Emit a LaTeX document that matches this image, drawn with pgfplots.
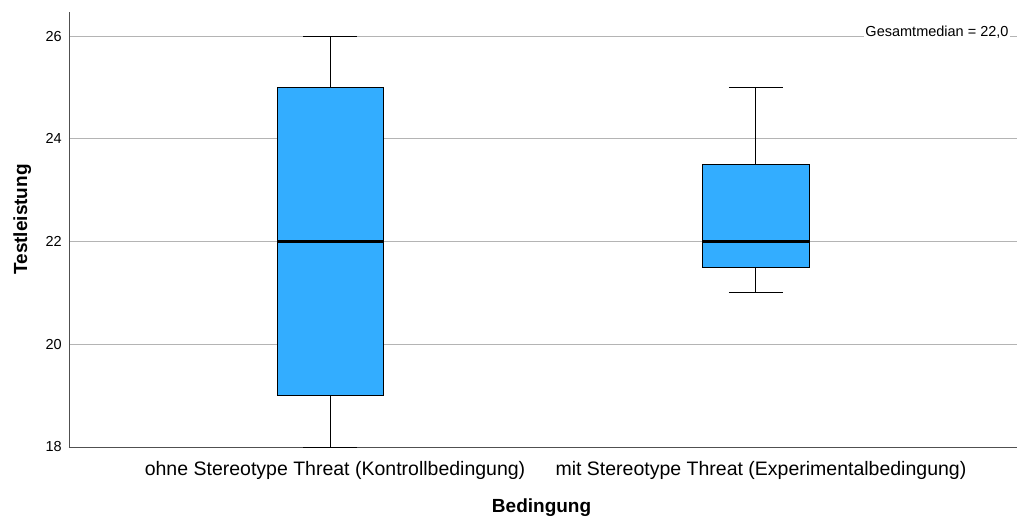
\documentclass[border=0pt]{standalone}
\usepackage{pgfplots}
\pgfplotsset{compat=1.18}
\usepgfplotslibrary{statistics}
\usepackage{fontspec}
\setmainfont{Liberation Sans}
\definecolor{boxblue}{HTML}{33ADFF}
\definecolor{gridgray}{HTML}{B4B4B4}
\definecolor{axgray}{HTML}{505050}
\begin{document}
\begin{tikzpicture}
\begin{axis}[
  at={(0,0)}, anchor=south west,
  scale only axis, width=948pt, height=435pt,
  xmin=-0.613, xmax=1.613,
  ymin=18, ymax=26.47,
  axis x line*=bottom, axis y line*=left,
  axis line style={axgray, line width=0.8pt},
  xtick={0,1},
  xticklabels={ohne Stereotype Threat (Kontrollbedingung), mit Stereotype Threat (Experimentalbedingung)},
  ytick={18,20,22,24,26},
  major tick length=0pt,
  ymajorgrids, grid style={gridgray, line width=0.8pt},
  x tick label style={font=\fontsize{19.5}{23}\selectfont, anchor=base, inner sep=0pt, yshift=-28pt, xshift=5pt},
  y tick label style={font=\fontsize{14.5}{17}\selectfont, anchor=east, inner sep=0pt, xshift=-7pt},
  /pgf/number format/assume math mode=true,
  xlabel={\textbf{Bedingung}},
  ylabel={\textbf{Testleistung}},
  xlabel style={font=\fontsize{19}{22}\selectfont, at={(axis description cs:0.4985,0)}, anchor=base, inner sep=0pt, yshift=-65pt},
  ylabel style={font=\fontsize{19}{22}\selectfont, at={(axis description cs:-0.0443,0.523)}, anchor=base, inner sep=0pt, rotate=0},
  boxplot/draw direction=y,
  boxplot/every median/.style={line width=2.5pt, black},
  clip=false,
]
\addplot+[mark=none, draw=black, fill=boxblue, line width=0.9pt,
  boxplot prepared={lower whisker=18, lower quartile=19, median=22, upper quartile=25, upper whisker=26,
  draw position=0, box extend=0.249, whisker extend=0.127}] coordinates {};
\addplot+[mark=none, draw=black, fill=boxblue, line width=0.9pt,
  boxplot prepared={lower whisker=21, lower quartile=21.5, median=22, upper quartile=23.5, upper whisker=25,
  draw position=1, box extend=0.249, whisker extend=0.127}] coordinates {};
\node[anchor=base east, fill=white, inner xsep=1pt, inner ysep=1.5pt, font=\fontsize{14.5}{17}\selectfont] at (axis cs:1.596,26) {Gesamtmedian = 22,0};
\coordinate (ll) at (rel axis cs:0,0);
\coordinate (ur) at (rel axis cs:1,1);
\end{axis}
\path (ll) ++(-69pt,-70pt) coordinate (bl);
\path (ur) ++(1pt,12pt) coordinate (tr);
\path (bl) rectangle (tr);
\end{tikzpicture}
\end{document}
